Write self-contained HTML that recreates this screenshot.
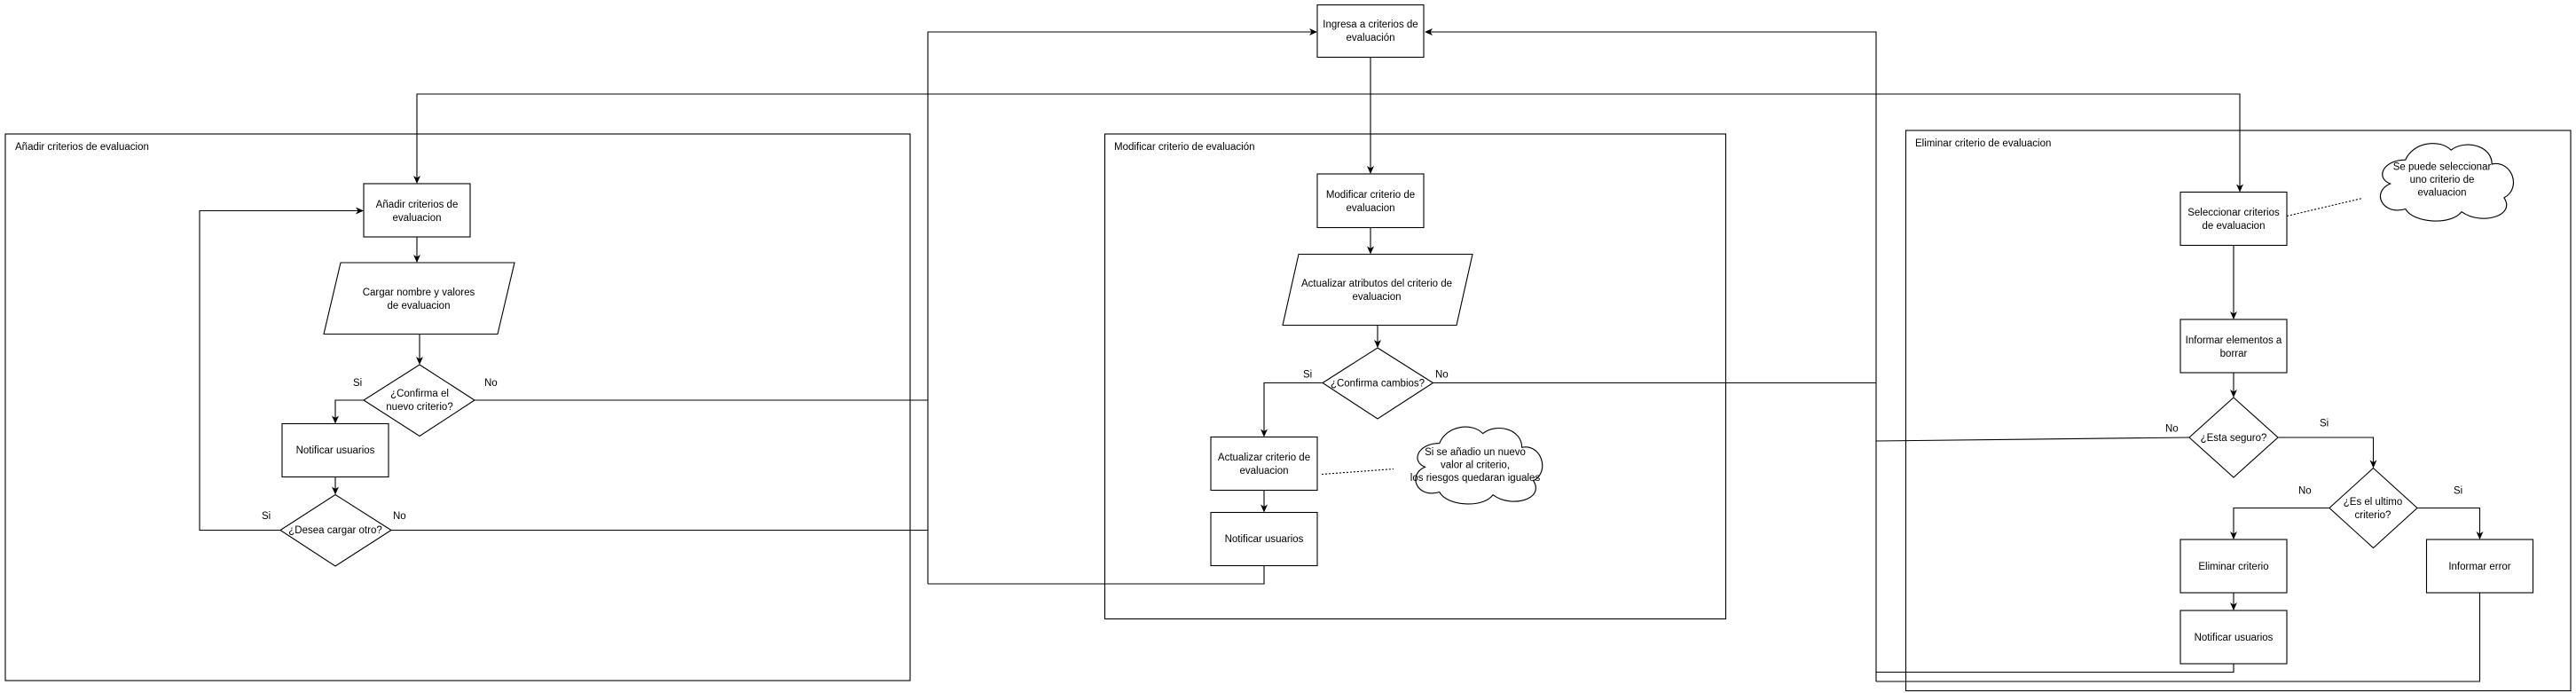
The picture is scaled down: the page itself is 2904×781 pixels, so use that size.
<!DOCTYPE html>
<html><head><meta charset="utf-8"><style>
html,body{margin:0;padding:0;background:#fff;}
svg{display:block}
text{font-family:"Liberation Sans",Arial,sans-serif;font-size:11.5px;fill:#000}
</style></head><body>
<svg width="2904" height="781" viewBox="0 0 2904 781" xmlns="http://www.w3.org/2000/svg">
<defs>
<marker id="a" markerWidth="10" markerHeight="10" refX="8" refY="5" orient="auto" markerUnits="userSpaceOnUse">
<path d="M0,1 L9,5 L0,9 L2.5,5 Z" fill="#000"/></marker>
<path id="cloud" d="M25,15 C10,15 5,28 15,32 C2,38 10,55 25,50 C30,60 55,62 62,52 C75,62 98,55 90,42 C102,35 95,15 82,18 C82,5 65,0 55,8 C48,0 30,2 25,15 Z"/>
</defs>
<g fill="none" stroke="#000" stroke-width="1.1">
<rect x="6" y="151" width="1020" height="616"/>
<rect x="1245.5" y="151" width="700" height="546.5"/>
<rect x="2148.5" y="147" width="749.5" height="631.5"/>

<rect x="410" y="207" width="120" height="60"/>
<polygon points="384,296 580,296 561,376.5 365,376.5"/>
<polygon points="473,411 535,451 473,491.5 410,451"/>
<rect x="318" y="477.5" width="120" height="60"/>
<polygon points="378,557.5 441,597.5 378,638 316,597.5"/>
<path d="M470,267 V295" marker-end="url(#a)"/>
<path d="M473,376.5 V410" marker-end="url(#a)"/>
<path d="M410,451 H378 V476.5" marker-end="url(#a)"/>
<path d="M378,537.5 V556.5" marker-end="url(#a)"/>
<path d="M316,597.5 H225 V237.5 H409" marker-end="url(#a)"/>
<path d="M535,451 H1046"/>
<path d="M441,597.5 H1046"/>

<path d="M1046,658 V36 H1484" marker-end="url(#a)"/>
<path d="M2115,768 V36 H1607" marker-end="url(#a)"/>
<path d="M2525,106 H470 V206" marker-end="url(#a)"/>
<path d="M470,106 H2525 V215.5" marker-end="url(#a)"/>

<rect x="1485" y="5.5" width="120" height="59"/>
<path d="M1545,64.5 V195" marker-end="url(#a)"/>

<rect x="1485" y="196" width="120" height="60.5"/>
<path d="M1545,256.5 V285.5" marker-end="url(#a)"/>
<polygon points="1464,286.5 1660,286.5 1642,366.5 1446,366.5"/>
<path d="M1553,366.5 V391" marker-end="url(#a)"/>
<polygon points="1553,392 1615.5,431.5 1553,472 1491,431.5"/>
<path d="M1491,431.5 H1425 V491.5" marker-end="url(#a)"/>
<path d="M1615.5,431.5 H2115"/>
<rect x="1365" y="492.5" width="120" height="60"/>
<path d="M1425,552.5 V576.5" marker-end="url(#a)"/>
<rect x="1365" y="577.5" width="120" height="60"/>
<path d="M1425,637.5 V658 H1046"/>
<path d="M1490,534.5 L1571,528.5" stroke-dasharray="2,2"/>
<use href="#cloud" transform="translate(1582,476) scale(1.63,1.57)" stroke-width="0.7"/>

<rect x="2458" y="216.5" width="120" height="60"/>
<path d="M2518,276.5 V359" marker-end="url(#a)"/>
<path d="M2578,243.5 L2663,223.5" stroke-dasharray="2,2"/>
<use href="#cloud" transform="translate(2669,156.5) scale(1.71,1.58)" stroke-width="0.7"/>
<rect x="2458" y="360" width="120" height="60"/>
<path d="M2518,420 V447" marker-end="url(#a)"/>
<polygon points="2518,448 2568,493 2518,538 2468,493"/>
<path d="M2468,493 L2115,497"/>
<path d="M2568,493 H2675.5 V526.5" marker-end="url(#a)"/>
<polygon points="2675.5,527.5 2725,572.5 2675.5,617.5 2626,572.5"/>
<path d="M2626,572.5 H2518 V607" marker-end="url(#a)"/>
<path d="M2725,572.5 H2795.5 V607" marker-end="url(#a)"/>
<rect x="2458" y="608" width="120" height="60"/>
<rect x="2735.5" y="608" width="120" height="60"/>
<path d="M2518,668 V687" marker-end="url(#a)"/>
<rect x="2458" y="688" width="120" height="60"/>
<path d="M2518,748 V757.5 H2115"/>
<path d="M2795.5,668 V768 H2115"/>
</g>

<g text-anchor="middle">
<text x="1545" y="31">Ingresa a criterios de</text>
<text x="1545" y="46">evaluación</text>
<text x="470" y="234">Añadir criterios de</text>
<text x="470" y="249">evaluacion</text>
<text x="472" y="333">Cargar nombre y valores</text>
<text x="472" y="348">de evaluacion</text>
<text x="473" y="447">¿Confirma el</text>
<text x="473" y="462">nuevo criterio?</text>
<text x="378" y="511">Notificar usuarios</text>
<text x="378" y="601">¿Desea cargar otro?</text>
<text x="1545" y="223">Modificar criterio de</text>
<text x="1545" y="238">evaluacion</text>
<text x="1552" y="323">Actualizar atributos del criterio de</text>
<text x="1552" y="338">evaluacion</text>
<text x="1553" y="435.5">¿Confirma cambios?</text>
<text x="1425" y="519">Actualizar criterio de</text>
<text x="1425" y="534">evaluacion</text>
<text x="1425" y="611">Notificar usuarios</text>
<text x="1663" y="513">Si se añadio un nuevo</text>
<text x="1663" y="527.5">valor al criterio,</text>
<text x="1663" y="542">los riesgos quedaran iguales</text>
<text x="2518" y="243">Seleccionar criterios</text>
<text x="2518" y="258">de evaluacion</text>
<text x="2753" y="191.5">Se puede seleccionar</text>
<text x="2753" y="206">uno criterio de</text>
<text x="2753" y="220.5">evaluacion</text>
<text x="2518" y="387">Informar elementos a</text>
<text x="2518" y="402">borrar</text>
<text x="2518" y="497">¿Esta seguro?</text>
<text x="2675" y="569">¿Es el ultimo</text>
<text x="2675" y="584">criterio?</text>
<text x="2518" y="642">Eliminar criterio</text>
<text x="2795.5" y="642">Informar error</text>
<text x="2518" y="722">Notificar usuarios</text>
</g>

<g>
<text x="17" y="169">Añadir criterios de evaluacion</text>
<text x="1256" y="169">Modificar criterio de evaluación</text>
<text x="2159" y="165">Eliminar criterio de evaluacion</text>
<text x="398" y="435">Si</text>
<text x="546" y="435">No</text>
<text x="295" y="585">Si</text>
<text x="443" y="585">No</text>
<text x="1469" y="425.5">Si</text>
<text x="1618" y="425.5">No</text>
<text x="2441" y="486.5">No</text>
<text x="2615" y="480.5">Si</text>
<text x="2591" y="556.5">No</text>
<text x="2766" y="556.5">Si</text>
</g>
</svg>
</body></html>
